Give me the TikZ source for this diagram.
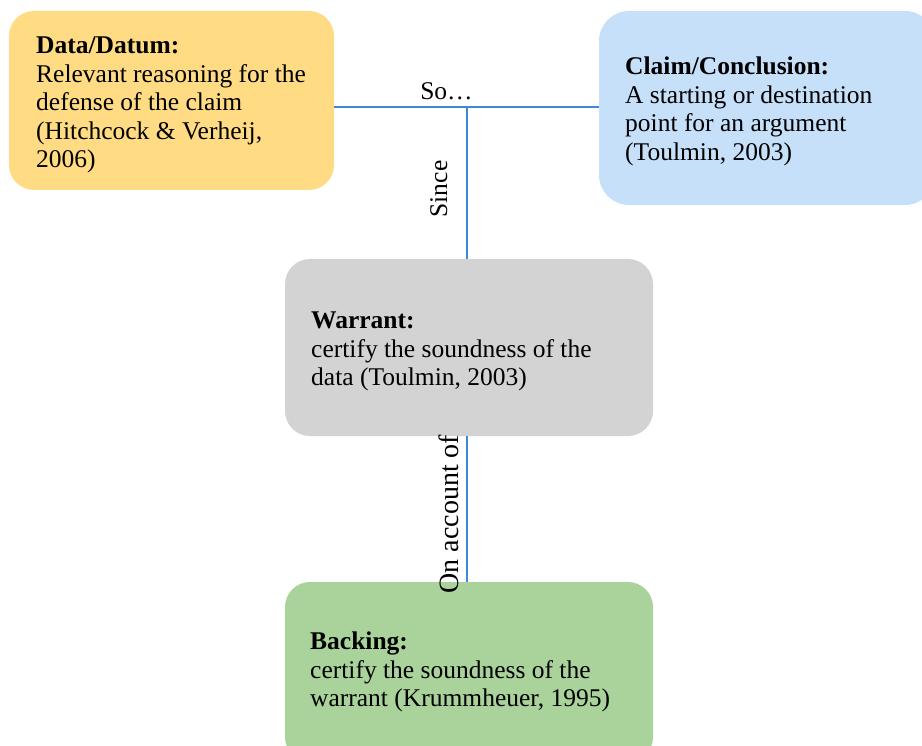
\documentclass[tikz,border=0pt]{standalone}
\usepackage{fontspec}
\setmainfont{Liberation Serif}
\definecolor{datafill}{HTML}{FFDC84}
\definecolor{claimfill}{HTML}{C6E0F9}
\definecolor{warrantfill}{HTML}{D3D3D3}
\definecolor{backingfill}{HTML}{A9D39B}
\definecolor{linkblue}{HTML}{3F88DC}
\begin{document}
\begin{tikzpicture}[x=1pt,y=-1pt,
  card/.style={shape=rectangle, rounded corners=25pt, inner sep=0pt, draw=none},
  body/.style={anchor=north west, align=left, inner sep=0pt,
               font=\fontsize{25.5}{28.5}\selectfont},
  cue/.style={inner sep=0pt, font=\fontsize{25.5}{28.5}\selectfont},
  link/.style={draw=linkblue, line width=2pt}]
\useasboundingbox (0,0) rectangle (922,746);
\clip (0,0) rectangle (922,746);

% the four element boxes of the argument
\node[card, fill=datafill, minimum width=325pt, minimum height=179pt] (data) at (171.5,100.5) {};
\node[card, fill=claimfill, rounded corners=30pt, minimum width=336pt, minimum height=194pt] (claim) at (767,108) {};
\node[card, fill=warrantfill, minimum width=368pt, minimum height=177pt] (warrant) at (469,347.5) {};
\node[card, fill=backingfill, minimum width=368pt, minimum height=180pt] (backing) at (469,672) {};

% box texts
\node[body] (dataText) at (36,37) {\textbf{Data/Datum:}\\Relevant reasoning for the\\defense of the claim\\(Hitchcock \& Verheij,\\2006)};
\node[body] (claimText) at (625,57) {\textbf{Claim/Conclusion:}\\A starting or destination\\point for an argument\\(Toulmin, 2003)};
\node[body] (warrantText) at (311,312) {\textbf{Warrant:}\\certify the soundness of the\\data (Toulmin, 2003)};
\node[body] (backingText) at (310,632) {\textbf{Backing:}\\certify the soundness of the\\warrant (Krummheuer, 1995)};

% connectors
\coordinate (jn) at (467,107);
\draw[link] (data.east |- jn) -- (claim.west |- jn);
\draw[link] (jn) -- (jn |- warrant.north);
\draw[link] (warrant.south -| jn) -- (backing.north -| jn);

% connector words
\node[cue, anchor=base] (so) at (446.5,100) {So…};
\node[cue, rotate=90, anchor=base] (since) at (447,189) {Since};
\node[cue, rotate=90, anchor=base, font=\fontsize{28}{31}\selectfont] (onacct) at (458,514) {On account of};
\end{tikzpicture}
\end{document}
